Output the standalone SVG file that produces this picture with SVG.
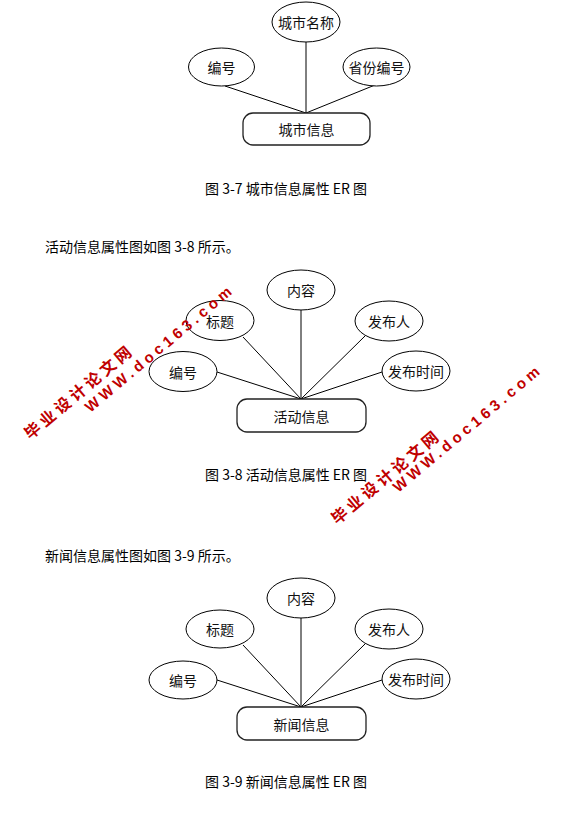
<svg xmlns="http://www.w3.org/2000/svg" width="567" height="814" viewBox="0 0 567 814">
<style>
.ell{fill:#fff;stroke:#000;stroke-width:1}
.ent{fill:#fff;stroke:#222;stroke-width:1.3}
.lbl{font-family:"Noto Sans CJK SC","Liberation Sans",sans-serif;font-size:14px;fill:#111;text-anchor:middle;dominant-baseline:central}
.txt{font-family:"Noto Sans CJK SC","Liberation Sans",sans-serif;font-size:14px;fill:#000;dominant-baseline:central}
.conn line{stroke:#000;stroke-width:1}
.wm{font-family:"Liberation Sans","Noto Sans CJK SC",sans-serif;font-weight:bold;fill:#c00000;text-anchor:middle;dominant-baseline:central}
</style>
<rect width="567" height="814" fill="#fff"/>

<!-- Diagram 1 -->
<g id="d1-connectors" class="conn">
<line x1="225" y1="86" x2="306" y2="113"/>
<line x1="306" y1="42" x2="306" y2="113"/>
<line x1="375" y1="85" x2="306" y2="113"/>
</g>
<g id="d1-name"><ellipse class="ell" cx="306" cy="22" rx="34" ry="20"/><text class="lbl" x="306" y="22">城市名称</text></g>
<g id="d1-id"><ellipse class="ell" cx="221.5" cy="67" rx="33" ry="19"/><text class="lbl" x="221.5" y="67">编号</text></g>
<g id="d1-prov"><ellipse class="ell" cx="376.5" cy="67" rx="33.5" ry="19"/><text class="lbl" x="376.5" y="67">省份编号</text></g>
<g id="d1-entity"><rect class="ent" x="243" y="113" width="127" height="32" rx="10"/><text class="lbl" x="306.5" y="129">城市信息</text></g>
<text class="txt" x="205" y="188">图 3-7 城市信息属性 ER 图</text>

<text class="txt" x="45" y="246">活动信息属性图如图 3-8 所示。</text>

<!-- Diagram 2 -->
<g id="d2-connectors" class="conn">
<line x1="243" y1="337" x2="301" y2="399"/>
<line x1="217" y1="372" x2="301" y2="399"/>
<line x1="301" y1="310" x2="301" y2="399"/>
<line x1="365" y1="336" x2="301" y2="399"/>
<line x1="382" y1="372" x2="301" y2="399"/>
</g>
<g id="d2-content"><ellipse class="ell" cx="301" cy="290" rx="34" ry="20"/><text class="lbl" x="301" y="290">内容</text></g>
<g id="d2-title"><ellipse class="ell" cx="220" cy="320.5" rx="34" ry="20"/><text class="lbl" x="220" y="320.5">标题</text></g>
<g id="d2-id"><ellipse class="ell" cx="183" cy="371.5" rx="34" ry="20"/><text class="lbl" x="183" y="371.5">编号</text></g>
<g id="d2-pub"><ellipse class="ell" cx="389" cy="321" rx="34" ry="20"/><text class="lbl" x="389" y="321">发布人</text></g>
<g id="d2-time"><ellipse class="ell" cx="416" cy="371" rx="34" ry="20"/><text class="lbl" x="416" y="371">发布时间</text></g>
<g id="d2-entity"><rect class="ent" x="237" y="399" width="129" height="33" rx="10"/><text class="lbl" x="301.5" y="415.5">活动信息</text></g>
<text class="txt" x="205" y="474">图 3-8 活动信息属性 ER 图</text>

<text class="txt" x="45" y="555">新闻信息属性图如图 3-9 所示。</text>

<!-- Diagram 3 -->
<g id="d3-connectors" class="conn">
<line x1="243" y1="645" x2="301" y2="707"/>
<line x1="217" y1="680" x2="301" y2="707"/>
<line x1="301" y1="618" x2="301" y2="707"/>
<line x1="365" y1="644" x2="301" y2="707"/>
<line x1="382" y1="680" x2="301" y2="707"/>
</g>
<g id="d3-content"><ellipse class="ell" cx="301" cy="598" rx="34" ry="20"/><text class="lbl" x="301" y="598">内容</text></g>
<g id="d3-title"><ellipse class="ell" cx="220" cy="629" rx="34" ry="19"/><text class="lbl" x="220" y="629">标题</text></g>
<g id="d3-id"><ellipse class="ell" cx="183" cy="680" rx="34" ry="19"/><text class="lbl" x="183" y="680">编号</text></g>
<g id="d3-pub"><ellipse class="ell" cx="389" cy="629" rx="34" ry="20"/><text class="lbl" x="389" y="629">发布人</text></g>
<g id="d3-time"><ellipse class="ell" cx="416" cy="679" rx="34" ry="20"/><text class="lbl" x="416" y="679">发布时间</text></g>
<g id="d3-entity"><rect class="ent" x="237" y="707" width="129" height="33" rx="10"/><text class="lbl" x="301.5" y="723.5">新闻信息</text></g>
<text class="txt" x="205" y="781">图 3-9 新闻信息属性 ER 图</text>

<!-- Watermarks -->
<g id="watermark1">
<text class="wm" font-size="16" transform="translate(78,393) rotate(-40)" textLength="134" lengthAdjust="spacing">毕业设计论文网</text>
<text class="wm" font-size="15" transform="translate(158,349) rotate(-40)" textLength="186" lengthAdjust="spacing">WWW.doc163.com</text>
</g>
<g id="watermark2">
<text class="wm" font-size="16" transform="translate(385,478) rotate(-40)" textLength="134" lengthAdjust="spacing">毕业设计论文网</text>
<text class="wm" font-size="15" transform="translate(466,429) rotate(-40)" textLength="186" lengthAdjust="spacing">WWW.doc163.com</text>
</g>
</svg>
